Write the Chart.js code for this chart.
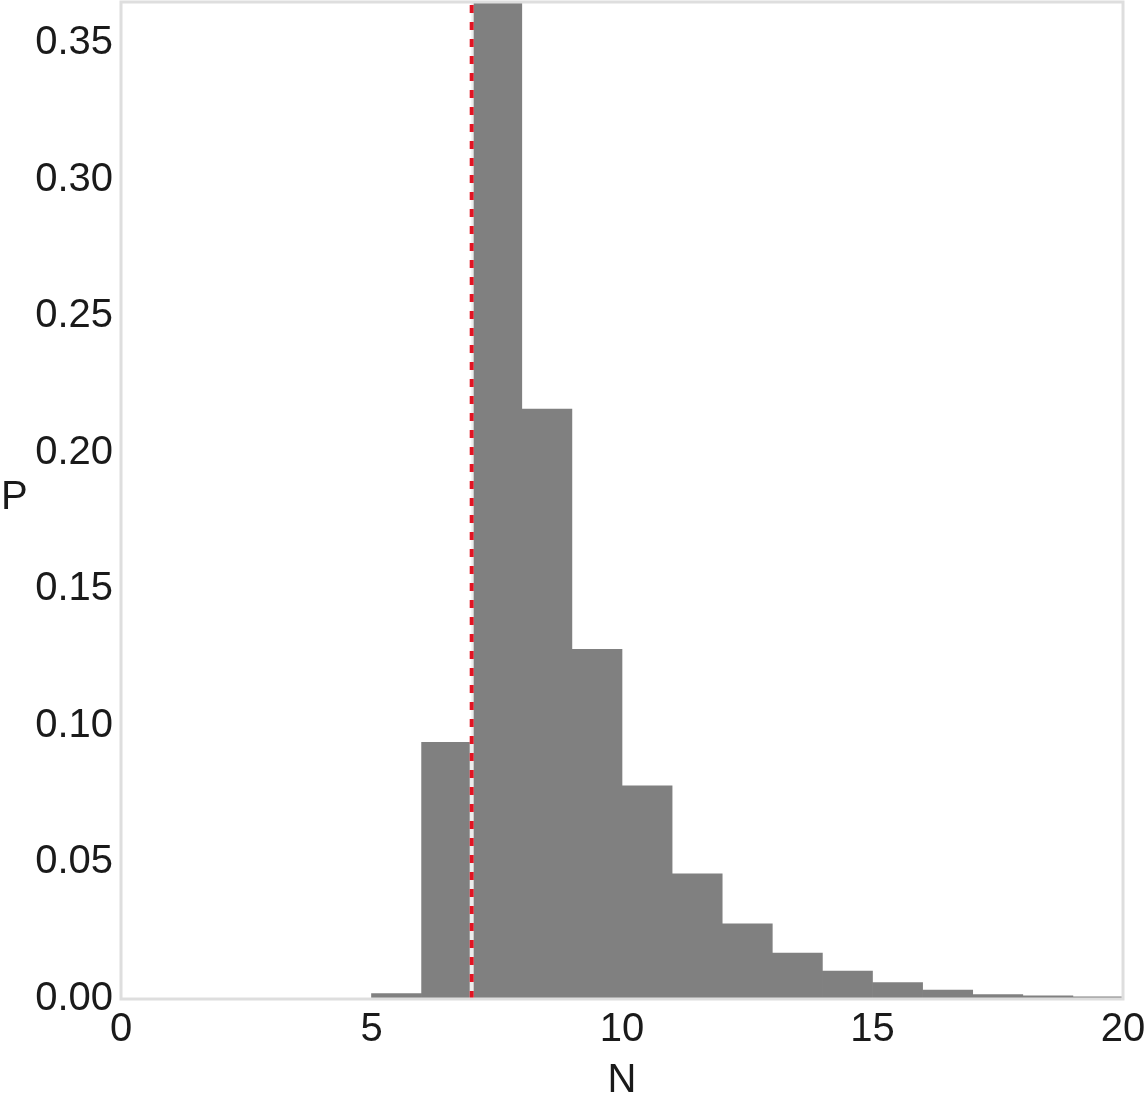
<!DOCTYPE html>
<html>
<head>
<meta charset="utf-8">
<script src="https://cdn.jsdelivr.net/npm/chart.js@4/dist/chart.umd.min.js"></script>
<style>
  html, body { margin: 0; padding: 0; background: #fff; }
  #wrap { width: 1146px; height: 1108px; }
</style>
</head>
<body>
<div id="wrap"><canvas id="myChart" width="1146" height="1108"></canvas></div>
<script>
// histogram bins (left edge of each bin, width 1)
var binStarts = [5, 6, 7, 8, 9, 10, 11, 12, 13, 14, 15, 16, 17, 18, 19];
var probs = [0.002, 0.094, 0.38, 0.216, 0.128, 0.078, 0.0458, 0.0275, 0.0168, 0.0102, 0.006, 0.0033, 0.0016, 0.0012, 0.0008];
var thresholdN = 7;
var xTicks = [0, 5, 10, 15, 20];
var yTicks = [0, 0.05, 0.10, 0.15, 0.20, 0.25, 0.30, 0.35];
var yMax = 0.365;

var FONT = "'Liberation Sans', Arial, sans-serif";

// bars are centered in their bins
var barData = [];
for (var i = 0; i < binStarts.length; i++) {
  barData.push({ x: binStarts[i] + 0.5, y: probs[i] });
}
var vline = [{ x: thresholdN, y: 0 }, { x: thresholdN, y: yMax }];

// frame around plot + axis names
var framePlugin = {
  id: 'frame',
  afterDatasetsDraw: function(chart) {
    var a = chart.chartArea, ctx = chart.ctx;
    ctx.save();
    ctx.strokeStyle = '#dedede';
    ctx.lineWidth = 3;
    ctx.strokeRect(a.left, a.top, a.right - a.left, a.bottom - a.top);
    ctx.restore();
  },
  afterDraw: function(chart) {
    var ctx = chart.ctx, a = chart.chartArea;
    ctx.save();
    ctx.fillStyle = '#1a1a1a';
    ctx.font = '40px ' + FONT;
    ctx.textBaseline = 'middle';
    ctx.textAlign = 'left';
    ctx.fillText('P', 1, 498);
    ctx.textAlign = 'center';
    ctx.fillText('N', (a.left + a.right) / 2, 1081);
    ctx.restore();
  }
};

var ctx = document.getElementById('myChart').getContext('2d');
var chart = new Chart(ctx, {
  type: 'bar',
  data: {
    datasets: [
      {
        type: 'line', data: vline, order: 0,
        borderColor: 'rgb(225, 20, 35)', borderWidth: 4, borderDash: [8, 9],
        pointRadius: 0, fill: false
      },
      {
        type: 'line', data: vline, order: 1,
        borderColor: 'rgba(255,255,255,0.85)', borderWidth: 4,
        pointRadius: 0, fill: false
      },
      {
        type: 'bar', data: barData, order: 2,
        backgroundColor: '#808080', borderWidth: 0,
        barPercentage: 1.0, categoryPercentage: 1.0
      }
    ]
  },
  options: {
    responsive: false,
    animation: false,
    events: [],
    layout: { padding: { top: 2, right: 23, left: 0, bottom: 0 } },
    plugins: { legend: { display: false }, tooltip: { enabled: false } },
    scales: {
      x: {
        type: 'linear', min: 0, max: 20, offset: false,
        grid: { display: false, drawTicks: false, offset: false },
        border: { display: false },
        ticks: {
          color: '#1a1a1a', font: { family: FONT, size: 40 }, padding: 7,
          maxRotation: 0, autoSkip: false
        },
        afterBuildTicks: function(scale) {
          scale.ticks = xTicks.map(function(v) { return { value: v }; });
        },
        afterFit: function(scale) {
          scale.height = 109;
          scale.paddingLeft = 0; scale.paddingRight = 0;
        }
      },
      y: {
        type: 'linear', min: 0, max: yMax,
        grid: { display: false, drawTicks: false },
        border: { display: false },
        ticks: {
          color: '#1a1a1a', font: { family: FONT, size: 40 }, padding: 8,
          callback: function(v) { return Number(v).toFixed(2); }
        },
        afterBuildTicks: function(scale) {
          scale.ticks = yTicks.map(function(v) { return { value: v }; });
        },
        afterFit: function(scale) {
          scale.width = 121;
          scale.paddingTop = 0; scale.paddingBottom = 0;
        }
      }
    }
  },
  plugins: [framePlugin]
});
</script>
</body>
</html>
